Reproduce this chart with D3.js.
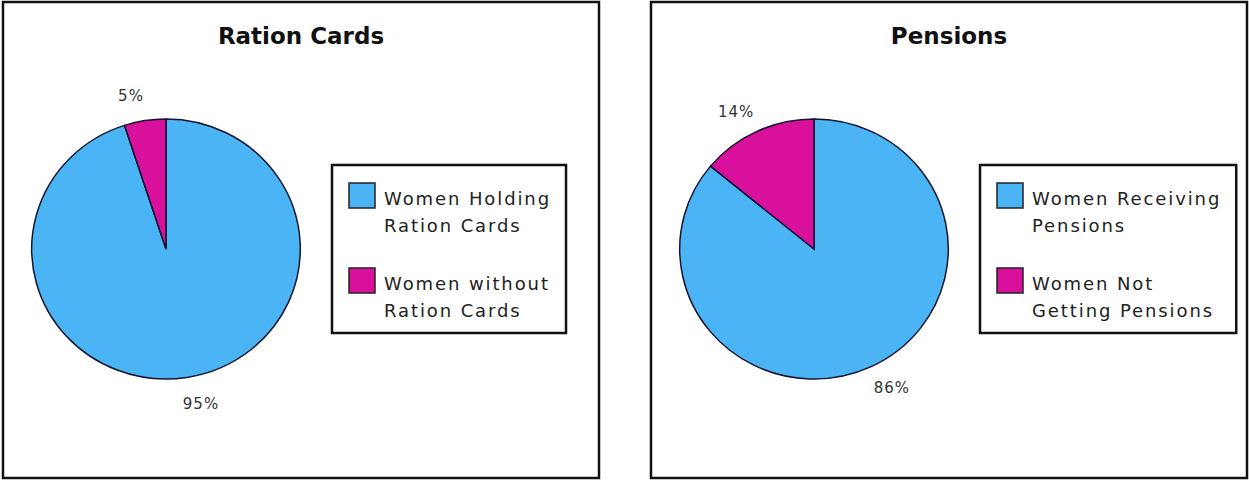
<!DOCTYPE html>
<html>
<head>
<meta charset="utf-8">
<script src="https://cdn.jsdelivr.net/npm/d3@7"></script>
<style>
  body { margin: 0; background: #fff; }
  text { font-family: "DejaVu Sans", sans-serif; }
</style>
</head>
<body>
<div id="viz"></div>
<script>
// chart data
var titles = ["Ration Cards", "Pensions"];
var rationCategories = ["Women Holding\nRation Cards", "Women without\nRation Cards"];
var rationValues = [95, 5];
var pensionCategories = ["Women Receiving\nPensions", "Women Not\nGetting Pensions"];
var pensionValues = [86, 14];
var sliceColors = ["#4ab4f4", "#d9109c"];

var width = 1249,
    height = 481;

var svg = d3.select("#viz")
  .append("svg")
  .attr("width", width)
  .attr("height", height);

var panels = [
  {title: titles[0], cats: rationCategories, vals: rationValues, x0: 3},
  {title: titles[1], cats: pensionCategories, vals: pensionValues, x0: 651}
];

var panelW = 596, panelH = 476;
var radius = 130, sx = 1.033;

var color = d3.scaleOrdinal().range(sliceColors);
var pie = d3.pie().sort(null).value(d => d);
var arc = d3.arc().innerRadius(0).outerRadius(radius);

panels.forEach(p => {
  var g = svg.append("g")
    .attr("transform", "translate(" + p.x0 + ",2)");

  // frame
  g.append("rect")
    .attr("x", 0).attr("y", 0)
    .attr("width", panelW).attr("height", panelH)
    .attr("fill", "#fff")
    .attr("stroke", "#111")
    .attr("stroke-width", 2.5);

  // title
  g.append("text")
    .attr("x", panelW / 2)
    .attr("y", 42)
    .attr("text-anchor", "middle")
    .attr("font-size", 23)
    .attr("font-weight", "bold")
    .attr("fill", "#111")
    .text(p.title);

  // pie
  var cx = 163, cy = 247;
  var arcs = pie(p.vals);
  var pg = g.append("g")
    .attr("transform", "translate(" + cx + "," + cy + ") scale(" + sx + ",1)");

  pg.selectAll("path")
    .data(arcs)
    .enter().append("path")
    .attr("d", arc)
    .attr("fill", (d, i) => color(i))
    .attr("stroke", "#151530")
    .attr("stroke-width", 1.5)
    .attr("vector-effect", "non-scaling-stroke");

  // percent labels outside the slices (nudged a little anticlockwise)
  var labelR = radius * 1.21;
  var mid = d => (d.startAngle + d.endAngle) / 2 - 0.06;
  g.selectAll(".pct")
    .data(arcs)
    .enter().append("text")
    .attr("class", "pct")
    .attr("x", d => cx + Math.sin(mid(d)) * labelR * sx)
    .attr("y", d => cy - Math.cos(mid(d)) * labelR + 6)
    .attr("text-anchor", "middle")
    .attr("font-size", 15)
    .attr("letter-spacing", 1)
    .attr("fill", "#333")
    .text(d => d.data + "%");

  // legend
  var lg = g.append("g").attr("transform", "translate(329,163)");
  var box = lg.append("rect")
    .attr("x", 0).attr("y", 0)
    .attr("height", 168)
    .attr("fill", "#fff")
    .attr("stroke", "#111")
    .attr("stroke-width", 2.5);

  var items = lg.selectAll(".item")
    .data(p.cats)
    .enter().append("g")
    .attr("class", "item")
    .attr("transform", (d, i) => "translate(0," + (i * 85) + ")");

  items.append("rect")
    .attr("x", 17).attr("y", 18)
    .attr("width", 26).attr("height", 25)
    .attr("fill", (d, i) => color(i))
    .attr("stroke", "#222")
    .attr("stroke-width", 1.5);

  items.each(function(d) {
    var t = d3.select(this).append("text")
      .attr("font-size", 18)
      .attr("letter-spacing", 1.9)
      .attr("fill", "#222");
    d.split("\n").forEach((line, j) => {
      t.append("tspan")
        .attr("x", 52)
        .attr("y", 40 + j * 27)
        .text(line);
    });
  });

  var maxW = d3.max(items.nodes(), n => n.querySelector("text").getBBox().width);
  box.attr("width", 52 + maxW + 15);
});
</script>
</body>
</html>
